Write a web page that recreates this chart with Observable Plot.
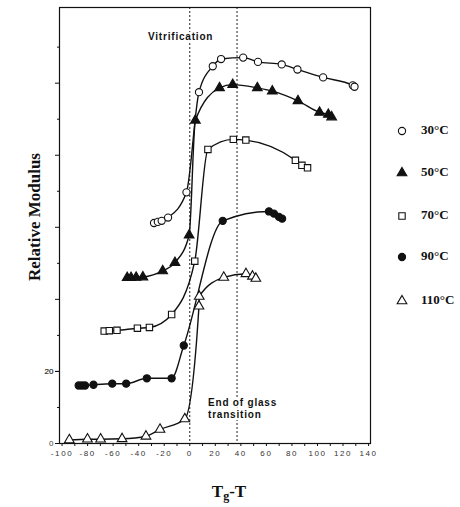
<!DOCTYPE html>
<html><head><meta charset="utf-8">
<script src="https://cdn.jsdelivr.net/npm/d3@7"></script>
<script src="https://cdn.jsdelivr.net/npm/@observablehq/plot@0.6"></script>
<style>body{margin:0;background:#fff} #chart{width:460px;height:507px}</style>
</head><body><div id="chart"></div>
<script>
// ---- data ----
const seriesNames = ["30°C", "50°C", "70°C", "90°C", "110°C"];

const x30 = [-28, -25, -22, -17, -2.6, 7.2, 18, 24.5, 41.8, 53.4, 72, 84.3, 104.4, 127.6, 129];
const y30 = [61.2, 61.5, 61.8, 62.7, 69.7, 97.5, 104.7, 106.7, 107.1, 105.9, 105.2, 103.8, 101.6, 99.4, 99.0];

const x50 = [-49, -46, -42, -36.7, -21.2, -11.6, -0.5, 4.4, 23.3, 33.6, 52.9, 64.6, 84.7, 101.6, 108.5, 111.1];
const y50 = [46, 46, 46.1, 46.2, 47.9, 50.2, 57.8, 89.7, 98.7, 99.6, 98.7, 97.8, 95.1, 91.9, 91.3, 90.6];

const x70 = [-67, -63, -57, -41, -31.6, -14.2, 3.9, 14.2, 34.1, 43.9, 82.7, 87.8, 92.2];
const y70 = [31.2, 31.3, 31.4, 32, 32.2, 35.8, 50.6, 81.6, 84.4, 84.2, 78.6, 77.2, 76.5];

const x90 = [-87, -84.5, -82, -75.4, -60.7, -49.8, -33.6, -14.2, -4.7, 25.8, 62, 65.9, 69.8, 72.3];
const y90 = [16.1, 16.1, 16.1, 16.3, 16.6, 16.6, 18.1, 18.1, 27.2, 61.8, 64.4, 63.8, 62.9, 62.4];

const x110 = [-94.3, -80.1, -69.8, -53, -34.3, -23.3, -3.9, 7.2, 7.4, 26.6, 44, 49.1, 51.7];
const y110 = [1.0, 1.2, 1.2, 1.3, 2.0, 3.9, 6.8, 38.1, 40.8, 46.1, 47.1, 46.4, 45.8];

const xTicks = d3.range(-100, 141, 10);
const xLabelTicks = [-100, -80, -60, -40, -20, 0, 20, 40, 60, 80, 100, 120, 140];
const yMajorTicks = [20, 40, 60, 80, 100];
const yMinorTicks = [10, 30, 50, 70, 90, 110];
const yLabelTicks = [0, 20];
const refLines = [0, 37];   // vitrification, end of glass transition
const xTitle = ["T", "g", "-T"];
const yTitle = "Relative Modulus";
const annVitrification = "Vitrification";
const annGlass = ["End of glass", "transition"];

// ---- build table ----
const xs = [x30, x50, x70, x90, x110];
const ys = [y30, y50, y70, y90, y110];
const symbols = ["circle", "triangle", "square", "circle", "triangle"];
const filled = [false, true, false, true, false];
const rows = [];
seriesNames.forEach((s, i) => xs[i].forEach((x, j) => rows.push({series: s, x, y: ys[i][j]})));

const marks = [
  Plot.ruleX(refLines, {stroke: "#222", strokeWidth: 1, strokeDasharray: "2,2"}),
  Plot.frame({stroke: "#111", strokeWidth: 1.2})
];
seriesNames.forEach((s, i) => {
  const d = rows.filter(r => r.series === s);
  marks.push(Plot.line(d, {x: "x", y: "y", curve: "monotone-x", stroke: "#111", strokeWidth: 1.4}));
});
seriesNames.forEach((s, i) => {
  const d = rows.filter(r => r.series === s);
  marks.push(Plot.dot(d, {x: "x", y: "y", symbol: () => symbols[i], r: 3.6,
    fill: filled[i] ? "#111" : "white", stroke: "#111", strokeWidth: 1.1}));
});
marks.push(
  Plot.axisX(xTicks, {tickSize: 3, tickFormat: d => xLabelTicks.includes(d) ? String(d) : "",
    fontSize: 8, fill: "#333", tickPadding: 4, stroke: "#111"}),
  Plot.axisY(yLabelTicks.concat(yMajorTicks), {tickSize: 4, tickFormat: d => yLabelTicks.includes(d) ? String(d) : "",
    fontSize: 8, fill: "#444", tickPadding: 2, stroke: "#111"}),
  Plot.axisY(yMinorTicks, {tickSize: 2, tickFormat: () => "", stroke: "#111"})
);

const svg = Plot.plot({
  width: 460, height: 507,
  marginLeft: 59, marginRight: 90, marginTop: 7, marginBottom: 64,
  x: {domain: [-102, 141.5], label: null},
  y: {domain: [0, 121], label: null},
  style: {fontFamily: "'Liberation Sans', Arial, sans-serif", background: "white"},
  marks
});
document.getElementById("chart").appendChild(svg);

// letter spacing on the x tick labels
d3.select(svg).selectAll("[aria-label='x-axis tick label'] text").attr("letter-spacing", "1.6");

const g = d3.select(svg).append("g").attr("text-anchor", "start");
// y title
g.append("text").attr("transform", "translate(36,217) rotate(-90)")
  .attr("text-anchor", "middle").attr("dominant-baseline", "middle")
  .attr("font-family", "'Liberation Serif', 'Times New Roman', serif")
  .attr("font-weight", "bold").attr("font-size", 17).attr("fill", "#111").text(yTitle);
// x title with subscript
const xt = g.append("text").attr("x", 229).attr("y", 497).attr("text-anchor", "middle")
  .attr("font-family", "'Liberation Serif', 'Times New Roman', serif")
  .attr("font-weight", "bold").attr("font-size", 17).attr("fill", "#111");
xt.append("tspan").text(xTitle[0]);
xt.append("tspan").attr("font-size", 12).attr("dy", 3).text(xTitle[1]);
xt.append("tspan").attr("dy", -3).text(xTitle[2]);

// annotations
const annStyle = sel => sel.attr("text-anchor", "start").attr("font-family", "'Liberation Sans', Arial, sans-serif")
  .attr("font-weight", "bold").attr("font-size", 10).attr("letter-spacing", "0.8")
  .attr("fill", "#111").attr("stroke", "white").attr("stroke-width", 4).attr("paint-order", "stroke");
annStyle(g.append("text").attr("x", 148).attr("y", 40).text(annVitrification));
annStyle(g.append("text").attr("x", 208).attr("y", 406).text(annGlass[0]));
annStyle(g.append("text").attr("x", 208).attr("y", 418).text(annGlass[1]));

// legend
const legY = [131, 173, 216, 257, 301];
const symMap = {circle: d3.symbolCircle, triangle: d3.symbolTriangle, square: d3.symbolSquare};
seriesNames.forEach((s, i) => {
  const r = 3.6;
  g.append("path").attr("transform", `translate(402,${legY[i]})`)
    .attr("d", d3.symbol(symMap[symbols[i]], Math.PI * r * r)())
    .attr("fill", filled[i] ? "#111" : "white").attr("stroke", "#111").attr("stroke-width", 1.1);
  g.append("text").attr("x", 421).attr("y", legY[i]).attr("dominant-baseline", "middle")
    .attr("text-anchor", "start")
    .attr("font-family", "'Liberation Serif', 'Times New Roman', serif")
    .attr("font-weight", "bold").attr("font-size", 13).attr("fill", "#111").text(s);
});
</script>
</body></html>
